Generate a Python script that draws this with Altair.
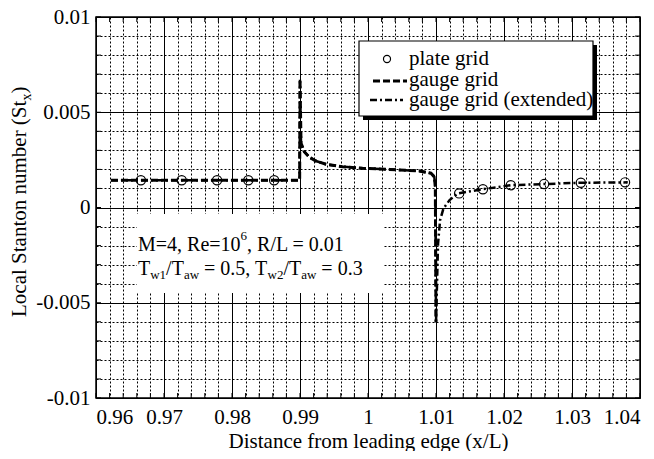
import altair as alt
import numpy as np
import pandas as pd

# ---------------- data ----------------
gauge_x = [0.9622, 0.9897, 0.98995, 0.99, 0.99015, 0.99063, 0.99137, 0.99235, 0.99382,
           0.99626, 0.9992, 1.00317, 1.0046, 1.00754, 1.00926, 1.00975, 1.0099, 1.01]
gauge_y = [0.00143, 0.00143, 0.00145, 0.0067, 0.00338, 0.00293, 0.00264, 0.00244, 0.00227,
           0.00214, 0.00206, 0.0020, 0.00197, 0.00192, 0.0018, 0.00161, 0.00109, -0.00604]

ext_x = gauge_x + [1.01015, 1.0103, 1.0106, 1.0111, 1.0120, 1.0132, 1.0169, 1.0210,
                   1.0259, 1.0313, 1.0382]
ext_y = gauge_y + [-0.004, -0.0019, -0.00067, -0.00005, 0.00039, 0.00074, 0.00096, 0.00117,
                   0.00123, 0.0013, 0.00132]

plate_x = [0.9666, 0.9726, 0.9778, 0.9824, 0.9862, 1.0134, 1.0169, 1.0210, 1.0259, 1.0313, 1.0378]
plate_y = [0.00143, 0.00143, 0.00143, 0.00143, 0.00143, 0.00074, 0.00096, 0.00117, 0.00123,
           0.0013, 0.00132]

x_grid = np.round(np.arange(0.96, 1.04001, 0.002), 3).tolist()
y_grid = np.round(np.arange(-0.01, 0.01001, 0.001), 3).tolist()

legend_labels = ["plate grid", "gauge grid", "gauge grid (extended)"]
x_title = "Distance from leading edge (x/L)"
y_title = [("Local Stanton number (St", 21, 0), ("x", 14, 5), (")", 21, 0)]
note_line1 = [("M=4, Re=10", 20, 0), ("6", 13, -11), (", R/L = 0.01", 20, 0)]
note_line2 = [("T", 20, 0), ("w1", 13, 4), ("/T", 20, 0), ("aw", 13, 4), (" = 0.5, T", 20, 0),
              ("w2", 13, 4), ("/T", 20, 0), ("aw", 13, 4), (" = 0.3", 20, 0)]

# ---------------- layout ----------------
PW, PH = 544, 381
FONT = "Liberation Serif"
DUMMY = pd.DataFrame({"d": [0]})

WID = {' ': 250, '!': 333, '(': 333, ')': 333, ',': 250, '-': 333, '.': 250, '/': 278,
       '=': 564, 'D': 722, 'L': 611, 'M': 889, 'R': 667, 'S': 556, 'T': 611,
       'a': 444, 'b': 500, 'c': 444, 'd': 500, 'e': 444, 'f': 333, 'g': 500, 'h': 500,
       'i': 278, 'l': 278, 'm': 778, 'n': 500, 'o': 500, 'p': 500, 'r': 333, 's': 389,
       't': 278, 'u': 500, 'w': 722, 'x': 500}


def tw(s, size):
    return sum(WID.get(c, 500) for c in s) * size / 1000.0


def rich(segments, x0, y0, vertical=False):
    layers = []
    pos = 0.0
    for txt, size, off in segments:
        lead = len(txt) - len(txt.lstrip(' '))
        start = pos + tw(txt[:lead], size)
        body = txt.lstrip(' ')
        if vertical:
            px, py, ang = x0 + off, y0 - start, 270
        else:
            px, py, ang = x0 + start, y0 + off, 0
        layers.append(
            alt.Chart(DUMMY).mark_text(text=body, align="left", baseline="alphabetic",
                                       font=FONT, fontSize=size, color="black", angle=ang)
            .encode(x=alt.value(px), y=alt.value(py))
        )
        pos += tw(txt, size)
    return layers


MAJ_X = "abs(datum.value*100 - round(datum.value*100)) < 1e-6"
MAJ_Y = "abs(datum.value*200 - round(datum.value*200)) < 1e-6"

xs = alt.Scale(domain=[0.96, 1.04], nice=False, zero=False)
ys = alt.Scale(domain=[-0.01, 0.01], nice=False, zero=False)

x_axis = alt.Axis(
    values=x_grid, grid=True, gridColor="black", gridOpacity=1, gridWidth=1,
    gridDash={"condition": {"test": MAJ_X, "value": []}, "value": [2, 2]},
    ticks=False, domain=False, labelOverlap=False,
    labelExpr=f"({MAJ_X}) ? replace(format(datum.value, '~g'), '\u2212', '-') : ''",
    labelFont=FONT, labelFontSize=21, labelColor="black", labelPadding=8,
    title=x_title, titleFont=FONT, titleFontSize=21, titleFontWeight="normal",
    titleColor="black", titleBaseline="alphabetic", titleY=49,
)
y_axis = alt.Axis(
    values=y_grid, grid=True, gridColor="black", gridOpacity=1, gridWidth=1,
    gridDash={"condition": {"test": MAJ_Y, "value": []}, "value": [2, 2]},
    ticks=False, domain=False, labelOverlap=False,
    labelExpr=f"({MAJ_Y}) ? replace(format(datum.value, '~g'), '\u2212', '-') : ''",
    labelFont=FONT, labelFontSize=21, labelColor="black", labelPadding=6,
    title=None,
)
X = alt.X("x:Q", scale=xs, axis=x_axis)
Y = alt.Y("y:Q", scale=ys, axis=y_axis)

df_g = pd.DataFrame({"x": gauge_x, "y": gauge_y, "i": range(len(gauge_x))})
df_e = pd.DataFrame({"x": ext_x, "y": ext_y, "i": range(len(ext_x))})
df_p = pd.DataFrame({"x": plate_x, "y": plate_y})
df_tx = pd.DataFrame({"x": x_grid})
df_ty = pd.DataFrame({"y": y_grid})

# small inward ticks on the frame
tick_b = alt.Chart(df_tx).mark_rule(color="black", strokeWidth=1).encode(
    x=X, y=alt.value(PH), y2=alt.value(PH - 5))
tick_t = alt.Chart(df_tx).mark_rule(color="black", strokeWidth=1).encode(
    x=X, y=alt.value(0), y2=alt.value(5))
tick_l = alt.Chart(df_ty).mark_rule(color="black", strokeWidth=1).encode(
    y=Y, x=alt.value(0), x2=alt.value(5))
tick_r = alt.Chart(df_ty).mark_rule(color="black", strokeWidth=1).encode(
    y=Y, x=alt.value(PW), x2=alt.value(PW - 5))

# annotation box (white, hides grid)
note_box = alt.Chart(DUMMY).mark_rect(fill="white", stroke=None).encode(
    x=alt.value(41), x2=alt.value(287), y=alt.value(197), y2=alt.value(276))

# legend box with shadow
leg_shadow = alt.Chart(DUMMY).mark_rect(fill="black").encode(
    x=alt.value(267), x2=alt.value(501), y=alt.value(28), y2=alt.value(103))
leg_box = alt.Chart(DUMMY).mark_rect(fill="white", stroke="black", strokeWidth=1.2).encode(
    x=alt.value(263), x2=alt.value(497), y=alt.value(24), y2=alt.value(99))

ext_line = alt.Chart(df_e).mark_line(color="black", strokeWidth=2.5, strokeDash=[7, 3, 2, 3]).encode(
    x=X, y=Y, order="i:Q")
gauge_line = alt.Chart(df_g).mark_line(color="black", strokeWidth=3, strokeDash=[7, 3]).encode(
    x=X, y=Y, order="i:Q")
plate_pts = alt.Chart(df_p).mark_point(shape="circle", size=85, filled=False, stroke="black",
                                       strokeWidth=1.2, opacity=1).encode(x=X, y=Y)

leg_circle = alt.Chart(DUMMY).mark_point(shape="circle", size=50, filled=False, stroke="black",
                                         strokeWidth=1.2, opacity=1).encode(
    x=alt.value(291), y=alt.value(42))
leg_dash = alt.Chart(DUMMY).mark_rule(color="black", strokeWidth=3, strokeDash=[7, 3]).encode(
    x=alt.value(277), x2=alt.value(311), y=alt.value(64))
leg_dashdot = alt.Chart(DUMMY).mark_rule(color="black", strokeWidth=2.5, strokeDash=[7, 3, 2, 3]).encode(
    x=alt.value(274), x2=alt.value(307), y=alt.value(83))
leg_texts = [
    alt.Chart(DUMMY).mark_text(text=lab, align="left", baseline="alphabetic", font=FONT,
                               fontSize=21, color="black").encode(x=alt.value(313), y=alt.value(yy))
    for lab, yy in zip(legend_labels, [48, 69, 89])
]

layers = [ext_line, tick_b, tick_t, tick_l, tick_r, note_box, leg_shadow, leg_box,
          gauge_line, plate_pts, leg_circle, leg_dash, leg_dashdot] + leg_texts
layers += rich(note_line1, 42, 234)
layers += rich(note_line2, 42, 258)
layers += rich(y_title, -70, 300, vertical=True)

chart = alt.layer(*layers).properties(
    width=PW, height=PH,
    autosize=alt.AutoSizeParams(type="none"),
    padding={"left": 88, "top": 9, "right": 6, "bottom": 53},
    background="white",
).configure(font=FONT).configure_axis(
    labelFont=FONT, titleFont=FONT, labelFontSize=21, titleFontSize=21,
    labelColor="black", titleColor="black", titleFontWeight="normal",
).configure_view(stroke="black", strokeWidth=1.5)

chart.save("out.html", embed_options={"renderer": "svg", "actions": False})
